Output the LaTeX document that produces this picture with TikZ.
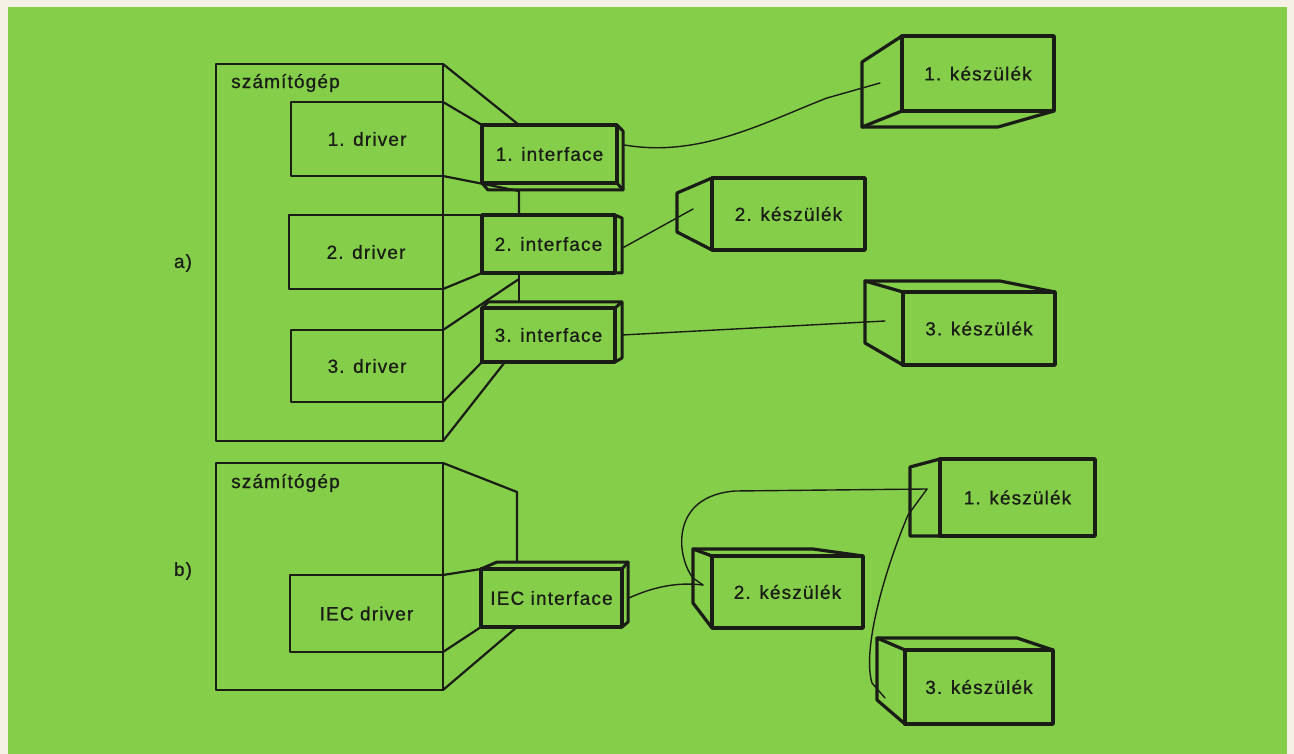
\documentclass[tikz,border=0pt]{standalone}
\usepackage{fontspec}
\setmainfont{Liberation Sans}[LetterSpace=6,FakeBold=0.8]
\definecolor{paper}{RGB}{244,240,228}
\definecolor{board}{RGB}{132,206,74}
\definecolor{inkc}{RGB}{26,28,22}
\newcommand{\lbl}{\fontsize{19}{21}\selectfont}
\begin{document}
\begin{tikzpicture}[x=1pt,y=-1pt,line join=round,line cap=round,
  frame/.style={draw=inkc,line width=2.2pt,inner sep=0pt,outer sep=0pt,font=\lbl,text=inkc},
  unit/.style={draw=inkc,line width=3.4pt,inner sep=0pt,outer sep=0pt,font=\lbl,text=inkc},
  side/.style={draw=inkc,line width=3.2pt},
  back/.style={draw=inkc,line width=3pt},
  edge3d/.style={draw=inkc,line width=2.2pt},
  wire/.style={draw=inkc,line width=1.4pt},
  lbl/.style={font=\lbl,text=inkc,inner sep=0pt}]
% page and board
\fill[paper] (0,0) rectangle (1294,754);
\fill[board] (8,7) rectangle (1287,754);
\useasboundingbox (0,0) rectangle (1294,754);

% ---------------- a) ----------------
\node[lbl] (lab-a) at (183,263) {a)};
\node[frame,minimum width=227,minimum height=377] (ca) at (329.5,252.5) {};
\node[lbl,anchor=west] (ca-t) at (231,83) {számítógép};
\node[frame,minimum width=152,minimum height=74] (d1) at (367,139) {1. driver};
\node[frame,minimum width=154,minimum height=74] (d2) at (366,252) {2. driver};
\node[frame,minimum width=152,minimum height=72] (d3) at (367,366) {3. driver};

\node[unit,minimum width=135,minimum height=58] (if1) at (549.5,154) {1. interface};
\node[unit,minimum width=133,minimum height=58] (if2) at (548.5,244) {2. interface};
\node[unit,minimum width=133,minimum height=54] (if3) at (548.5,335) {3. interface};

% interface depth faces
\draw[back] (if1.north east) -- (623,131) -- (623,190) -- (488,190) -- (if1.south west);
\draw[back] (if1.south east) -- (623,190);
\draw[back] (if2.north east) -- (622,218) -- (622,273) -- (if2.south east);
\draw[back] (if3.north west) -- (488,302) -- (622,302) -- (622,358) -- (if3.south east);
\draw[back] (if3.north east) -- (622,302);

% projection lines from the computer to the interfaces
\coordinate (j1) at (519,191);
\coordinate (j2) at (519,279);
\draw[edge3d] (ca.north east) -- (519,125);
\draw[edge3d] (d1.north east) -- (if1.north west);
\draw[edge3d] (d1.south east) -- (j1) -- (519,215);
\draw[edge3d] (d2.north east) -- (if2.north west);
\draw[edge3d] (d2.south east) -- (if2.south west);
\draw[edge3d] (519,273) -- (519,302);
\draw[edge3d] (d3.north east) -- (j2);
\draw[edge3d] (d3.south east) -- (if3.south west);
\draw[edge3d] (ca.south east) -- (505,362);

% devices
\node[unit,minimum width=152,minimum height=75] (k1a) at (978,73.5) {1. készülék};
\draw[side] (k1a.north west) -- (862,62) -- (862,127) -- (k1a.south west);
\draw[side] (862,127) -- (998,127) -- (k1a.south east);
\node[unit,minimum width=153,minimum height=72] (k2a) at (788.5,214) {2. készülék};
\draw[side] (k2a.north west) -- (677,193) -- (677,232) -- (k2a.south west);
\node[unit,minimum width=152,minimum height=73] (k3a) at (979,328.5) {3. készülék};
\draw[side] (k3a.north west) -- (865,281) -- (865,343) -- (k3a.south west);
\draw[side] (865,281) -- (1000,281) -- (k3a.north east);

% cables
\coordinate (p1a) at (880,83);
\coordinate (p2a) at (693,209);
\coordinate (p3a) at (885,321);
\draw[wire] ([xshift=7.5pt,yshift=9pt]if1.east) .. controls (700,158) and (765,122) .. (827,98) -- (p1a);
\draw[wire] ([xshift=7.5pt,yshift=-4pt]if2.east) -- (p2a);
\draw[wire] ([xshift=7pt]if3.east) -- (p3a);

% ---------------- b) ----------------
\node[lbl] (lab-b) at (183,571) {b)};
\node[frame,minimum width=227,minimum height=227] (cb) at (329.5,576.5) {};
\node[lbl,anchor=west] (cb-t) at (231,483) {számítógép};
\node[frame,minimum width=153,minimum height=77] (db) at (366.5,613.5) {IEC driver};
\node[unit,minimum width=141,minimum height=58] (ifb) at (551.5,598) {IEC interface};
\draw[back] (ifb.north west) -- (497,562) -- (628,562) -- (628,622) -- (ifb.south east);
\draw[back] (ifb.north east) -- (628,562);

\draw[edge3d] (cb.north east) -- (517,492) -- (517,562);
\draw[edge3d] (db.north east) -- (ifb.north west);
\draw[edge3d] (db.south east) -- (ifb.south west);
\draw[edge3d] (cb.south east) -- (517,627);

\node[unit,minimum width=155,minimum height=77] (k1b) at (1017.5,497.5) {1. készülék};
\draw[side] (k1b.north west) -- (910,467) -- (910,536) -- (k1b.south west);
\node[unit,minimum width=151,minimum height=72] (k2b) at (787.5,592) {2. készülék};
\draw[side] (k2b.north west) -- (693,549) -- (693,603) -- (k2b.south west);
\draw[side] (693,549) -- (813,549) -- (k2b.north east);
\node[unit,minimum width=148,minimum height=74] (k3b) at (979,687) {3. készülék};
\draw[side] (k3b.north west) -- (877,638) -- (877,700) -- (k3b.south west);
\draw[side] (877,638) -- (1017,638) -- (k3b.north east);

% IEC bus cable, daisy-chained through the devices
\coordinate (p1b) at (927,489);
\coordinate (p2b) at (703,585);
\coordinate (p3b) at (885,698);
\draw[wire] ([xshift=7pt]ifb.east) .. controls (655,586) and (680,582) .. (p2b);
\draw[wire] (p2b) -- (693,578) .. controls (676,556) and (670,496) .. (735,491) -- (p1b);
\draw[wire] (p1b) -- (908,515) .. controls (884,572) and (862,650) .. (872,683) -- (p3b);
\end{tikzpicture}
\end{document}
